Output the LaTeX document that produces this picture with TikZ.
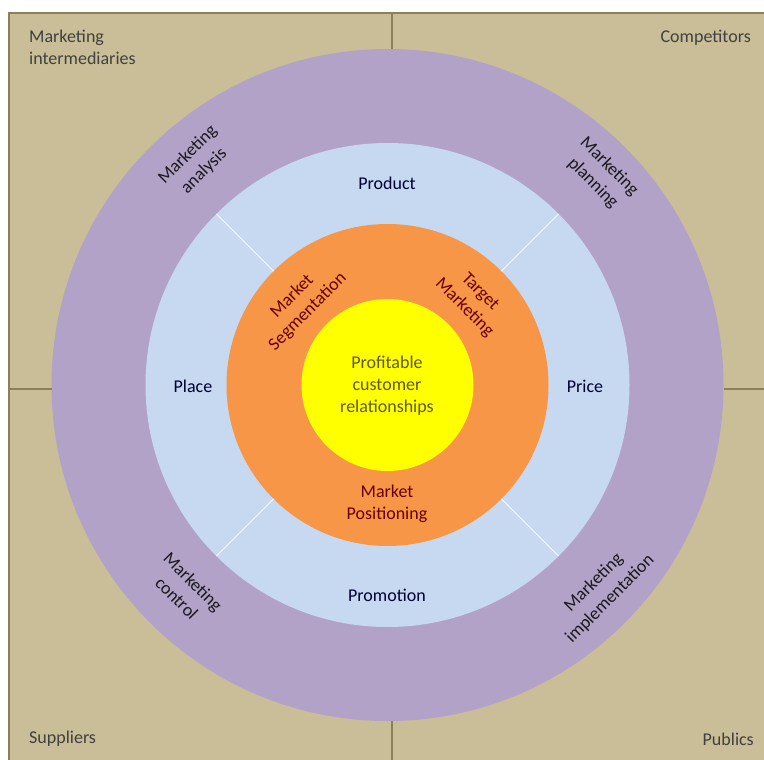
\documentclass[tikz,border=0pt]{standalone}
\usepackage{fontspec}
\setmainfont{Carlito}
\usepackage{xcolor}
\usetikzlibrary{positioning}
\usetikzlibrary{calc}
\definecolor{envtan}{RGB}{201,190,151}
\definecolor{envedge}{RGB}{140,128,88}
\definecolor{mixpurple}{RGB}{179,162,199}
\definecolor{mixblue}{RGB}{198,217,241}
\definecolor{mixorange}{RGB}{247,150,70}
\definecolor{mixyellow}{RGB}{255,255,0}
\tikzset{
    ring/.style={shape=circle,inner sep=0,outer sep=0},
    %line between the four corners
    edge line/.style={draw=envedge,line width=2pt},
    spoke/.style={draw=white!85!mixblue,line width=1pt},
    label text/.style={font=\fontsize{18}{22}\selectfont,align=center,inner sep=0},
    env text/.style={label text,text=black!75},
    mix text/.style={label text,text=blue!20!black},
    process text/.style={label text,font=\fontsize{18}{23}\selectfont,text=mixpurple!15!black},
    strategy text/.style={label text,text=red!40!black},
    core text/.style={label text,text=olive!55!black}
}
\begin{document}
\begin{tikzpicture}[x=1pt,y=-1pt]
    \clip (0,0) rectangle (764,760);
    \fill[white] (0,0) rectangle (764,760);
    \fill[envtan] (9,13) rectangle (780,780);
    \draw[edge line] (9,780) -- (9,13) -- (780,13);

    \node(process)[ring,fill=mixpurple,minimum size=672pt] at (387.5,385) {};
    \node(mix)[ring,fill=mixblue,minimum size=484pt] at (387.5,385) {};
    \node(strategy)[ring,fill=mixorange,minimum size=322pt] at (387.5,385) {};
    \node(core)[ring,fill=mixyellow,minimum size=172pt] at (387.5,385) {};

    \coordinate(top) at (392,13);
    \coordinate(bottom) at (392,780);
    \coordinate(left) at (9,389);
    \coordinate(right) at (780,389);
    \draw[edge line] (top) -- (top |- process.north);
    \draw[edge line] (bottom) -- (bottom |- process.south);
    \draw[edge line] (left) -- (left -| process.west);
    \draw[edge line] (right) -- (right -| process.east);

    \foreach \dir in {north west,north east,south west,south east}
        \draw[spoke] (mix.\dir) -- (strategy.\dir);

    \node(intermediaries)[env text,align=left,anchor=west] at (29,47) {Marketing\\intermediaries};
    \node(competitors)[env text,anchor=east] at (751,38) {Competitors};
    \node(suppliers)[env text,anchor=west] at (29,739) {Suppliers};
    \node(publics)[env text,anchor=east] at (754,739) {Publics};

    \node(analysis)[process text,rotate=45] at (196,163) {Marketing\\analysis};
    \node(planning)[process text,rotate=-45] at (601,175) {Marketing\\planning};
    \node(control)[process text,rotate=-45] at (185,590) {Marketing\\control};
    \node(implementation)[process text,rotate=45] at (602,591) {Marketing\\implementation};

    \node(product)[mix text] at (387,183) {Product};
    \node(place)[mix text] at (193,386) {Place};
    \node(price)[mix text] at (585,386) {Price};
    \node(promotion)[mix text] at (387,595) {Promotion};

    \node(segmentation)[strategy text,rotate=45] at (300,304) {Market\\Segmentation};
    \node(targeting)[strategy text,rotate=-45] at (472,300) {Target\\Marketing};
    \node(positioning)[strategy text] at (387,504) {Market\\Positioning};

    \node(relationships)[core text] at (387,386) {Profitable\\customer\\relationships};
\end{tikzpicture}
\end{document}
